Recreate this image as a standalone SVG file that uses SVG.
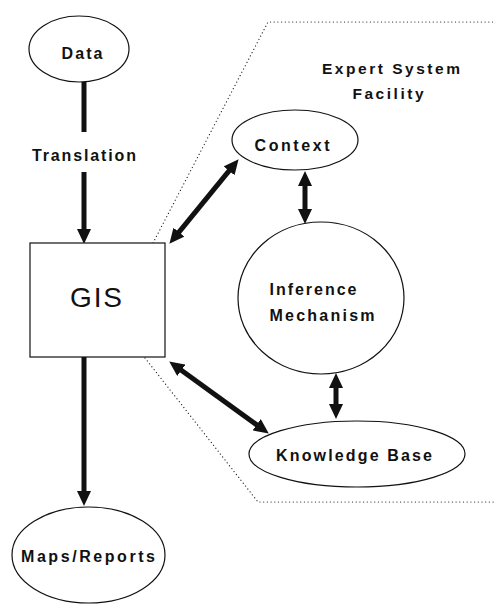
<svg xmlns="http://www.w3.org/2000/svg" width="495" height="604" viewBox="0 0 495 604">
  <style>
    .shape { fill: #fff; stroke: #111; stroke-width: 1.2; }
    .lbl { font-family: "Liberation Sans", Arial, sans-serif; font-weight: bold; fill: #111; }
    .flow { stroke: #111; stroke-width: 5; fill: none; }
    .dots { stroke: #222; stroke-width: 1.2; stroke-dasharray: 0.1 3.6; stroke-linecap: round; fill: none; }
  </style>
  <defs>
    <marker id="head" markerUnits="userSpaceOnUse" markerWidth="15" markerHeight="14" refX="6" refY="7" orient="auto-start-reverse">
      <path d="M0,0 L15,7 L0,14 z" fill="#111"/>
    </marker>
  </defs>
  <rect width="495" height="604" fill="#fff"/>

  <!-- boundary of the expert system facility -->
  <g id="facility-boundary">
    <polyline class="dots" points="153,243 268,22 495,22"/>
    <polyline class="dots" points="145,358 258,502 495,502"/>
    <text class="lbl" x="391" y="74" font-size="15.5" text-anchor="middle" textLength="138" lengthAdjust="spacing">Expert System</text>
    <text class="lbl" x="388" y="99" font-size="15.5" text-anchor="middle" textLength="71" lengthAdjust="spacing">Facility</text>
  </g>

  <!-- connectors -->
  <g id="connectors">
    <line class="flow" x1="84" y1="82" x2="84" y2="132"/>
    <text class="lbl" x="84" y="161" font-size="16" text-anchor="middle" textLength="104" lengthAdjust="spacing">Translation</text>
    <line class="flow" x1="84" y1="172" x2="84" y2="235" marker-end="url(#head)"/>
    <line class="flow" x1="84" y1="357" x2="84" y2="497" marker-end="url(#head)"/>
    <line class="flow" x1="175.1" y1="236.8" x2="232.9" y2="166.2" marker-start="url(#head)" marker-end="url(#head)"/>
    <line class="flow" x1="176.5" y1="366.7" x2="261.5" y2="428.3" marker-start="url(#head)" marker-end="url(#head)"/>
    <line class="flow" x1="305" y1="180" x2="305" y2="215" marker-start="url(#head)" marker-end="url(#head)"/>
    <line class="flow" x1="336" y1="382" x2="336" y2="410" marker-start="url(#head)" marker-end="url(#head)"/>
  </g>

  <g id="data">
    <ellipse class="shape" cx="79" cy="49" rx="50" ry="33"/>
    <text class="lbl" x="82" y="59" font-size="16" text-anchor="middle" textLength="41" lengthAdjust="spacing">Data</text>
  </g>

  <g id="gis">
    <rect class="shape" x="30" y="243" width="135" height="114"/>
    <text class="lbl" x="96" y="307" font-size="28" font-weight="normal" text-anchor="middle" textLength="52" lengthAdjust="spacing" style="font-weight:normal">GIS</text>
  </g>

  <g id="context">
    <ellipse class="shape" cx="295" cy="140" rx="63" ry="30"/>
    <text class="lbl" x="292" y="151" font-size="16" text-anchor="middle" textLength="75" lengthAdjust="spacing">Context</text>
  </g>

  <g id="inference-mechanism">
    <ellipse class="shape" cx="321" cy="298" rx="83" ry="76"/>
    <text class="lbl" x="313" y="295" font-size="16" text-anchor="middle" textLength="87" lengthAdjust="spacing">Inference</text>
    <text class="lbl" x="322" y="321" font-size="16" text-anchor="middle" textLength="105" lengthAdjust="spacing">Mechanism</text>
  </g>

  <g id="knowledge-base">
    <ellipse class="shape" cx="357" cy="454" rx="108" ry="33"/>
    <text class="lbl" x="354" y="461" font-size="16" text-anchor="middle" textLength="156" lengthAdjust="spacing">Knowledge Base</text>
  </g>

  <g id="maps-reports">
    <ellipse class="shape" cx="88.5" cy="555" rx="76.5" ry="48"/>
    <text class="lbl" x="88" y="562" font-size="16" text-anchor="middle" textLength="134" lengthAdjust="spacing">Maps/Reports</text>
  </g>
</svg>
